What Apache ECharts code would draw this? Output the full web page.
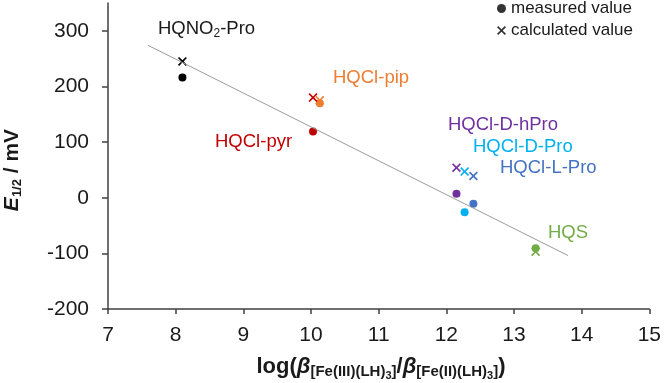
<!DOCTYPE html>
<html lang="en">

<head>
    <meta charset="UTF-8">
    <title>E1/2 vs log beta</title>
    <style>
        html, body { margin: 0; padding: 0; background: #fff; }
        .chart { width: 664px; height: 383px; }
    </style>
</head>

<body>
    <div class="chart"></div>
    <script src="https://cdn.jsdelivr.net/npm/echarts@6/dist/echarts.min.js"></script>
    <script>
        // compounds
        var names = ['HQNO2-Pro', 'HQCl-pyr', 'HQCl-pip', 'HQCl-D-hPro', 'HQCl-D-Pro', 'HQCl-L-Pro', 'HQS']
        var logBeta = [8.10, 10.03, 10.13, 12.15, 12.27, 12.40, 13.32]
        var measured = [216, 119, 170, 7, -26, -11, -91]
        var calculated = [245, 180, 175, 54, 47, 39, -97]
        var colors = ['#000000', '#c00000', '#ed7d31', '#7030a0', '#00b0f0', '#4472c4', '#70ad47']
        // trend line end points
        var fitX = [7.59, 13.80]
        var fitY = [274, -104]
        var yTicks = [-200, -100, 0, 100, 200, 300]

        var font = '"Liberation Sans", Arial, sans-serif'
        var crossPath = 'path://M0,1.3L1.3,0L5,3.7L8.7,0L10,1.3L6.3,5L10,8.7L8.7,10L5,6.3L1.3,10L0,8.7L3.7,5Z'

        var measuredData = logBeta.map(function (x, i) {
            return { value: [x, measured[i]], itemStyle: { color: colors[i], opacity: 1 } }
        })
        var calcData = logBeta.map(function (x, i) {
            return { value: [x, calculated[i]], itemStyle: { color: colors[i], opacity: 1 } }
        })

        var chart = echarts.init(document.getElementsByClassName('chart')[0])
        var option = {
            animation: false,
            grid: { left: 108, right: 12, top: 3, bottom: 74, containLabel: false },
            legend: {
                orient: 'vertical',
                left: 492, top: -5,
                itemWidth: 9, itemHeight: 9, itemGap: 5,
                textStyle: { fontFamily: font, fontSize: 17, color: '#1a1a1a' },
                data: [
                    { name: 'measured value', icon: 'circle', itemStyle: { color: '#000' } },
                    { name: 'calculated value', icon: crossPath, itemStyle: { color: '#000' } }
                ]
            },
            xAxis: {
                type: 'value', min: 7, max: 15, interval: 1,
                axisLine: { onZero: false, lineStyle: { color: '#404040', width: 1.5 } },
                axisTick: { inside: false, length: 5, lineStyle: { color: '#404040', width: 1.5 } },
                axisLabel: { margin: 16, fontFamily: font, fontSize: 21, color: '#1a1a1a' },
                splitLine: { show: false }
            },
            yAxis: {
                type: 'value', min: -200, max: 350, interval: 100,
                axisLine: { show: true, onZero: false, lineStyle: { color: '#404040', width: 1.5 } },
                axisTick: { show: true, inside: false, length: 6, customValues: yTicks, lineStyle: { color: '#404040', width: 1.5 } },
                axisLabel: { margin: 19, fontFamily: font, fontSize: 21, color: '#1a1a1a', customValues: yTicks },
                splitLine: { show: false }
            },
            series: [
                {
                    name: 'fit', type: 'line',
                    data: fitX.map(function (x, i) { return [x, fitY[i]] }),
                    symbol: 'none',
                    lineStyle: { color: '#9a9a9a', width: 1 },
                    silent: true
                },
                {
                    name: 'measured value', type: 'scatter',
                    symbol: 'circle', symbolSize: 8,
                    data: measuredData
                },
                {
                    name: 'calculated value', type: 'scatter',
                    symbol: crossPath, symbolSize: 9,
                    data: calcData
                }
            ],
            graphic: [
                // compound labels
                {
                    type: 'text', x: 158, y: 29,
                    style: {
                        text: '{a|HQNO}{s|2}{a|-Pro}', verticalAlign: 'middle',
                        rich: {
                            a: { fontFamily: font, fontSize: 18.5, fill: '#1a1a1a' },
                            s: { fontFamily: font, fontSize: 12, fill: '#1a1a1a', padding: [9, 0, 0, 0] }
                        }
                    }
                },
                { type: 'text', x: 333, y: 78, style: { text: 'HQCl-pip', fontFamily: font, fontSize: 18.5, fill: colors[2], verticalAlign: 'middle' } },
                { type: 'text', x: 215, y: 142, style: { text: 'HQCl-pyr', fontFamily: font, fontSize: 18.5, fill: colors[1], verticalAlign: 'middle' } },
                { type: 'text', x: 448, y: 125, style: { text: 'HQCl-D-hPro', fontFamily: font, fontSize: 18.5, fill: colors[3], verticalAlign: 'middle' } },
                { type: 'text', x: 473, y: 147, style: { text: 'HQCl-D-Pro', fontFamily: font, fontSize: 18.5, fill: colors[4], verticalAlign: 'middle' } },
                { type: 'text', x: 500, y: 168, style: { text: 'HQCl-L-Pro', fontFamily: font, fontSize: 18.5, fill: colors[5], verticalAlign: 'middle' } },
                { type: 'text', x: 548, y: 233, style: { text: 'HQS', fontFamily: font, fontSize: 18.5, fill: colors[6], verticalAlign: 'middle' } },
                // axis titles
                {
                    type: 'text', x: 381, y: 367,
                    style: {
                        text: '{b|log(}{bi|β}{s|[Fe(III)(LH)}{ss|3}{s|]}{b|/}{bi|β}{s|[Fe(II)(LH)}{ss|3}{s|]}{b|)}',
                        align: 'center', verticalAlign: 'middle',
                        rich: {
                            b: { fontFamily: font, fontSize: 22, fontWeight: 'bold', fill: '#1a1a1a' },
                            bi: { fontFamily: font, fontSize: 22, fontWeight: 'bold', fontStyle: 'italic', fill: '#1a1a1a' },
                            s: { fontFamily: font, fontSize: 15, fontWeight: 'bold', fill: '#1a1a1a', padding: [10, 0, 0, 0] },
                            ss: { fontFamily: font, fontSize: 11, fontWeight: 'bold', fill: '#1a1a1a', padding: [17, 0, 0, 0] }
                        }
                    }
                },
                {
                    type: 'text', x: 12, y: 170, rotation: Math.PI / 2,
                    style: {
                        text: '{bi|E}{s|1/2}{b| / mV}',
                        align: 'center', verticalAlign: 'middle',
                        rich: {
                            b: { fontFamily: font, fontSize: 21, fontWeight: 'bold', fill: '#1a1a1a' },
                            bi: { fontFamily: font, fontSize: 21, fontWeight: 'bold', fontStyle: 'italic', fill: '#1a1a1a' },
                            s: { fontFamily: font, fontSize: 13, fontWeight: 'bold', fill: '#1a1a1a', padding: [10, 0, 0, 0] }
                        }
                    }
                }
            ]
        }
        chart.setOption(option)
        window.onresize = chart.resize
    </script>
</body>

</html>
